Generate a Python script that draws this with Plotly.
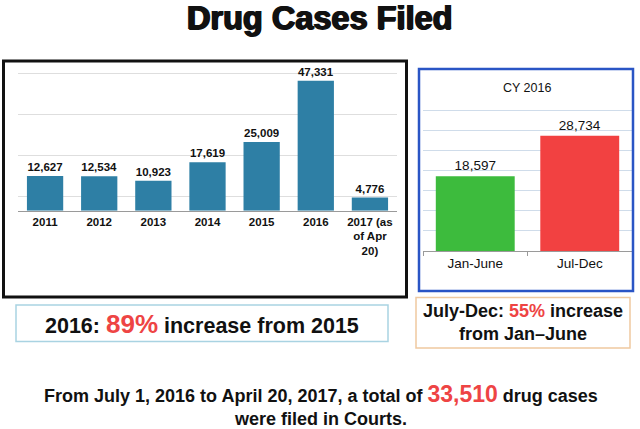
import plotly.graph_objects as go

W, H = 640, 429

years = ["2011", "2012", "2013", "2014", "2015", "2016", "2017 (as<br>of Apr<br>20)"]
cases = [12627, 12534, 10923, 17619, 25009, 47331, 4776]

halves = ["Jan-June", "Jul-Dec"]
half_cases = [18597, 28734]
half_colors = ["#3dbb3d", "#f24141"]

TITLE = "Drug Cases Filed"
RIGHT_TITLE = "CY 2016"

def px(x):
    return x / W

def py(y):
    return 1 - y / H

fig = go.Figure()

fig.add_trace(go.Bar(
    x=years, y=cases, xaxis="x", yaxis="y",
    marker=dict(color="#2e7fa5", line=dict(width=0)),
    text=[f"{v:,}" for v in cases], textposition="outside",
    textfont=dict(family="Liberation Sans", size=11.5, color="#111111", weight="bold"),
    cliponaxis=False, showlegend=False,
))

fig.add_trace(go.Bar(
    x=halves, y=half_cases, xaxis="x2", yaxis="y2",
    marker=dict(color=half_colors, line=dict(width=0)),
    text=[f"{v:,}" for v in half_cases], textposition="outside",
    textfont=dict(family="Liberation Sans", size=13.5, color="#111111"),
    cliponaxis=False, showlegend=False, width=0.755,
))

fig.update_layout(
    width=W, height=H,
    margin=dict(l=0, r=0, t=0, b=0),
    paper_bgcolor="white", plot_bgcolor="white",
    font=dict(family="Liberation Sans", color="#111111"),
    bargap=0.33,
    xaxis=dict(domain=[px(18), px(397)], showline=True, linecolor="#9a9a9a", linewidth=1,
               ticks="", showgrid=False, fixedrange=True,
               tickfont=dict(family="Liberation Sans", size=11.5, color="#111111", weight="bold")),
    yaxis=dict(domain=[py(210.7), py(70)], range=[0, 51240], showticklabels=False,
               tick0=5000, dtick=15000, showgrid=True, gridcolor="#dedede", gridwidth=1,
               zeroline=False, showline=False),
    xaxis2=dict(domain=[px(423), px(632)], anchor="y2", showline=True, linecolor="#9a9a9a",
                linewidth=1, ticks="outside", tickson="boundaries", ticklen=4, tickcolor="#9a9a9a",
                showgrid=False,
                tickfont=dict(family="Liberation Sans", size=13.5, color="#111111")),
    yaxis2=dict(domain=[py(251), py(100)], anchor="x2", range=[0, 37630], showticklabels=False,
                tick0=0, dtick=5000, showgrid=True, gridcolor="#cfdcea", gridwidth=1,
                zeroline=False, showline=False),
)

shapes = [
    dict(type="rect", xref="paper", yref="paper", x0=px(3.5), x1=px(406.5), y0=py(297), y1=py(61),
         line=dict(color="#111111", width=3)),
    dict(type="rect", xref="paper", yref="paper", x0=px(419), x1=px(633), y0=py(291), y1=py(69),
         line=dict(color="#2a55c5", width=2.5)),
    dict(type="rect", xref="paper", yref="paper", x0=px(16), x1=px(388), y0=py(341.5), y1=py(305),
         line=dict(color="#a9d3e2", width=1.5)),
    dict(type="rect", xref="paper", yref="paper", x0=px(416), x1=px(630), y0=py(348), y1=py(297.5),
         line=dict(color="#efc9a0", width=1.5)),
]
fig.update_layout(shapes=shapes)

RED = "#ee4444"
ann = [
    dict(text=f"<b>{TITLE}</b>", x=px(320), y=py(18),
         font=dict(family="Liberation Sans", size=32.5, color="#111111",
                   shadow="0.9px 0 0 #111111, -0.9px 0 0 #111111, 0 0.6px 0 #111111")),
    dict(text=RIGHT_TITLE, x=px(527), y=py(88), font=dict(family="Liberation Sans", size=12.5, color="#111111")),
    dict(text=f"<b>2016: <span style='color:{RED};font-size:26px'>89%</span> increase from 2015</b>",
         x=px(202), y=py(324), font=dict(family="Liberation Sans", size=21.5, color="#111111")),
    dict(text=f"<b>July-Dec: <span style='color:{RED}'>55%</span> increase<br>from Jan\u2013June</b>",
         x=px(523), y=py(322.5), font=dict(family="Liberation Sans", size=18, color="#111111")),
    dict(text=f"<b>From July 1, 2016 to April 20, 2017, a total of <span style='color:{RED};font-size:23px'>33,510</span> drug cases<br>were filed in Courts.</b>",
         x=px(321), y=py(405), font=dict(family="Liberation Sans", size=18, color="#111111")),
]
for a in ann:
    a.update(xref="paper", yref="paper", showarrow=False, xanchor="center", yanchor="middle")
fig.update_layout(annotations=ann)

fig.write_html("out.html", config={"displayModeBar": False},
               post_script="document.body.style.margin='0';document.body.style.overflow='hidden';")
